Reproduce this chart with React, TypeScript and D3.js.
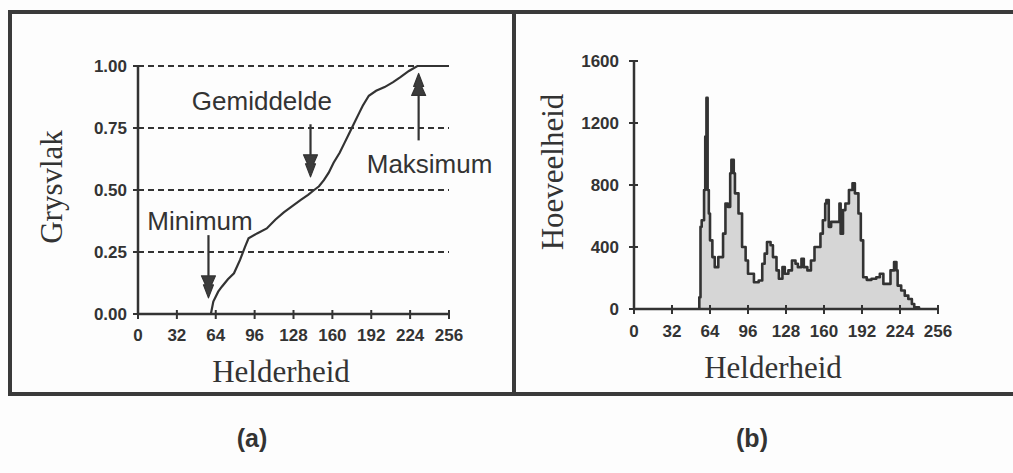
import * as d3 from 'd3';
import React from 'react';

// cumulative distribution (a)
const cumBrightness = [59, 60, 62, 66, 69, 74, 79, 84, 88, 91, 98, 106, 113, 120, 127, 134, 140, 145, 149, 153, 157, 161, 166, 170, 174, 178, 182, 185, 190, 196, 203, 210, 216, 223, 230, 256];
const cumFraction = [0, 0.0, 0.05, 0.09, 0.11, 0.14, 0.164, 0.218, 0.27, 0.305, 0.325, 0.345, 0.38, 0.41, 0.435, 0.46, 0.48, 0.5, 0.515, 0.54, 0.57, 0.61, 0.65, 0.69, 0.73, 0.77, 0.81, 0.84, 0.88, 0.9, 0.915, 0.935, 0.955, 0.98, 1.0, 1.0];

// histogram (b)
const histBrightness = [55, 56, 57, 59, 60, 61, 62, 63, 64, 66, 68, 71, 73, 75, 77, 79, 81, 82, 84, 85, 88, 91, 94, 96, 101, 105, 108, 110, 112, 115, 117, 120, 122, 125, 127, 130, 133, 136, 138, 141, 143, 146, 149, 152, 157, 159, 161, 162, 164, 166, 171, 173, 174, 176, 178, 181, 184, 186, 189, 191, 193, 196, 200, 204, 207, 210, 213, 216, 219, 221, 222, 225, 228, 231, 234, 236, 240];
const histCount = [76, 530, 573, 768, 1113, 1362, 768, 616, 443, 335, 270, 335, 335, 486, 681, 659, 876, 962, 876, 746, 616, 400, 313, 227, 173, 184, 292, 357, 432, 411, 335, 249, 195, 270, 227, 249, 313, 292, 270, 324, 270, 249, 313, 400, 486, 573, 681, 703, 530, 562, 562, 681, 486, 638, 681, 768, 811, 746, 616, 443, 205, 188, 195, 205, 227, 162, 162, 249, 303, 249, 151, 119, 86, 65, 32, 11, 0];

const xTicks = [0, 32, 64, 96, 128, 160, 192, 224, 256];
const fracTicks = [0, 0.25, 0.5, 0.75, 1.0];
const countTicks = [0, 400, 800, 1200, 1600];

// annotations: brightness value, arrow tail / tip fractions, label position
const annotations = [
  { name: 'Minimum', value: 58, from: 0.318, to: 0.065, labelValue: 51, labelFrac: 0.34 },
  { name: 'Gemiddelde', value: 142, from: 0.765, to: 0.553, labelValue: 102, labelFrac: 0.823 },
  { name: 'Maksimum', value: 231, from: 0.70, to: 0.97, labelValue: 240, labelFrac: 0.57 },
];

const ink = '#333';
const tickFont = { fontFamily: 'Liberation Sans, Arial, sans-serif', fontSize: 17, fontWeight: 700, fill: ink };
const titleFont = { fontFamily: 'Liberation Serif, Times New Roman, serif', fontSize: 31, fill: ink };

const Arrow = ({ x, y1, y2 }) => {
  const dir = y2 > y1 ? 1 : -1;
  const headLen = 22;
  const hw = 7;
  const base = y2 - dir * headLen;
  const mid = base + dir * 9;
  return (
    <g>
      <line x1={x} y1={y1} x2={x} y2={base} stroke={ink} strokeWidth={2.2} />
      <path d={`M${x - hw},${base} L${x + hw},${base} L${x + 3},${mid} L${x + 5},${mid} L${x},${y2} L${x - 5},${mid} L${x - 3},${mid} Z`} fill="#3c3c3c" stroke={ink} strokeWidth={1.2} strokeLinejoin="round" />
    </g>
  );
};

const CumulativeChart = () => {
  const x = d3.scaleLinear().domain([0, 256]).range([138, 449]);
  const y = d3.scaleLinear().domain([0, 1]).range([314, 66]);
  const pts = cumBrightness.map((b, i) => [b, cumFraction[i]]);
  const line = d3.line().x(d => x(d[0])).y(d => y(d[1]));
  return (
    <g>
      {fracTicks.slice(1).map(t => (
        <line key={t} x1={x(0)} x2={x(256)} y1={y(t)} y2={y(t)} stroke={ink} strokeWidth={2} strokeDasharray="6,4" />
      ))}
      <path d={line(pts)} fill="none" stroke={ink} strokeWidth={2.2} />
      <line x1={x(0)} x2={x(0)} y1={y(0)} y2={y(1)} stroke={ink} strokeWidth={2.5} />
      <line x1={x(0)} x2={x(256)} y1={y(0)} y2={y(0)} stroke={ink} strokeWidth={2.5} />
      {fracTicks.map(t => (
        <g key={t}>
          <line x1={x(0) - 5} x2={x(0) + 4} y1={y(t)} y2={y(t)} stroke={ink} strokeWidth={2} />
          <text x={x(0) - 11} y={y(t)} dy="0.36em" textAnchor="end" {...tickFont}>{t.toFixed(2)}</text>
        </g>
      ))}
      {xTicks.map(t => (
        <g key={t}>
          <line x1={x(t)} x2={x(t)} y1={y(0) - 4} y2={y(0) + 5} stroke={ink} strokeWidth={2} />
          <text x={x(t)} y={341} textAnchor="middle" {...tickFont}>{t}</text>
        </g>
      ))}
      {annotations.map(a => (
        <g key={a.name}>
          <Arrow x={x(a.value)} y1={y(a.from)} y2={y(a.to)} />
          <text x={x(a.labelValue)} y={y(a.labelFrac)} textAnchor="middle" fontFamily="Liberation Sans, Arial, sans-serif" fontSize={26} fill={ink}>{a.name}</text>
        </g>
      ))}
      <text transform={`translate(62,187) rotate(-90)`} textAnchor="middle" {...titleFont}>Grysvlak</text>
      <text x={281} y={382} textAnchor="middle" {...titleFont}>Helderheid</text>
    </g>
  );
};

const HistogramChart = () => {
  const x = d3.scaleLinear().domain([0, 256]).range([634, 938]);
  const y = d3.scaleLinear().domain([0, 1600]).range([309, 61]);
  const pts = [[histBrightness[0], 0], ...histBrightness.map((b, i) => [b, histCount[i]])];
  const area = d3.area().curve(d3.curveStepAfter).x(d => x(d[0])).y0(y(0)).y1(d => y(d[1]));
  const line = d3.line().curve(d3.curveStepAfter).x(d => x(d[0])).y(d => y(d[1]));
  return (
    <g>
      <path d={area(pts)} fill="#d6d6d6" />
      <path d={line(pts)} fill="none" stroke={ink} strokeWidth={2.6} strokeLinejoin="round" />
      <line x1={x(0)} x2={x(0)} y1={y(0)} y2={y(1600)} stroke={ink} strokeWidth={2.5} />
      <line x1={x(0)} x2={x(256)} y1={y(0)} y2={y(0)} stroke={ink} strokeWidth={2.5} />
      {countTicks.map(t => (
        <g key={t}>
          <line x1={x(0) - 5} x2={x(0) + 4} y1={y(t)} y2={y(t)} stroke={ink} strokeWidth={2} />
          <text x={x(0) - 15} y={y(t)} dy="0.36em" textAnchor="end" {...tickFont}>{t}</text>
        </g>
      ))}
      {xTicks.map(t => (
        <g key={t}>
          <line x1={x(t)} x2={x(t)} y1={y(0) - 4} y2={y(0) + 5} stroke={ink} strokeWidth={2} />
          <text x={x(t)} y={337} textAnchor="middle" {...tickFont}>{t}</text>
        </g>
      ))}
      <text transform={`translate(563,172) rotate(-90)`} textAnchor="middle" {...titleFont}>Hoeveelheid</text>
      <text x={773} y={378} textAnchor="middle" {...titleFont}>Helderheid</text>
    </g>
  );
};

export default function App() {
  return (
    <svg width={1013} height={473} style={{ position: 'absolute', left: 0, top: 0, background: '#fdfdfd' }}>
      <rect x={0} y={0} width={1013} height={473} fill="#fdfdfd" />
      {/* frame */}
      <line x1={8} x2={1013} y1={12} y2={12} stroke="#3a3a3a" strokeWidth={4} />
      <line x1={8} x2={1013} y1={394} y2={394} stroke="#3a3a3a" strokeWidth={4} />
      <line x1={10} x2={10} y1={10} y2={396} stroke="#3a3a3a" strokeWidth={4} />
      <line x1={514} x2={514} y1={10} y2={396} stroke="#3a3a3a" strokeWidth={4} />
      <CumulativeChart />
      <HistogramChart />
      <text x={252} y={447} textAnchor="middle" fontFamily="Liberation Sans, Arial, sans-serif" fontWeight={700} fontSize={25} fill={ink}>(a)</text>
      <text x={752} y={447} textAnchor="middle" fontFamily="Liberation Sans, Arial, sans-serif" fontWeight={700} fontSize={25} fill={ink}>(b)</text>
    </svg>
  );
}
